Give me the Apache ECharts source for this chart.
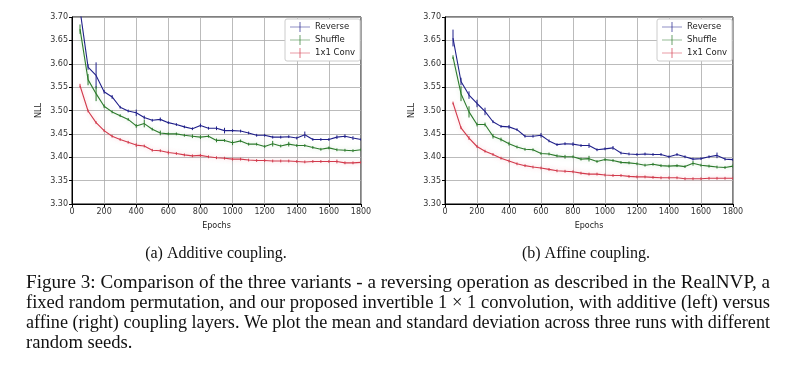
<!DOCTYPE html>
<html>
<head>
<meta charset="utf-8">
<script src="https://cdn.jsdelivr.net/npm/echarts@6/dist/echarts.min.js"></script>
<style>
  html, body { margin: 0; padding: 0; background: #fff; }
  #main { width: 796px; height: 373px; }
</style>
</head>
<body>
<div id="main"></div>
<script>
// epochs at which the curves were logged
const epochs = [50, 100, 150, 200, 250, 300, 350, 400, 450, 500, 550, 600, 650, 700, 750, 800, 850, 900,
  950, 1000, 1050, 1100, 1150, 1200, 1250, 1300, 1350, 1400, 1450, 1500, 1550, 1600, 1650, 1700, 1750, 1800];

// (a) additive coupling
const addRev = [3.715, 3.593, 3.575, 3.540, 3.529, 3.507, 3.499, 3.495, 3.485, 3.479, 3.481, 3.474, 3.470, 3.465, 3.461,
  3.468, 3.462, 3.462, 3.457, 3.457, 3.456, 3.452, 3.447, 3.447, 3.443, 3.443, 3.444, 3.441, 3.448, 3.438, 3.438, 3.438, 3.443, 3.445, 3.441, 3.438];
const addShuf = [3.674, 3.566, 3.536, 3.509, 3.497, 3.489, 3.481, 3.467, 3.472, 3.460, 3.452, 3.450, 3.450, 3.447, 3.445,
  3.443, 3.445, 3.436, 3.436, 3.431, 3.435, 3.428, 3.428, 3.423, 3.429, 3.424, 3.428, 3.425, 3.425, 3.421, 3.417, 3.420, 3.416, 3.415, 3.414, 3.416];
const addConv = [3.553, 3.499, 3.474, 3.457, 3.445, 3.438, 3.432, 3.426, 3.424, 3.415, 3.414, 3.410, 3.408, 3.405, 3.403,
  3.404, 3.401, 3.399, 3.398, 3.396, 3.396, 3.394, 3.393, 3.393, 3.392, 3.392, 3.392, 3.391, 3.390, 3.391, 3.391, 3.391, 3.391, 3.388, 3.388, 3.389];
const addRevStd = [0.010, 0.006, 0.028, 0.004, 0.004, 0.003, 0.003, 0.007, 0.004, 0.003, 0.004, 0.003, 0.003, 0.003, 0.003,
  0.004, 0.003, 0.004, 0.006, 0.003, 0.003, 0.003, 0.003, 0.003, 0.003, 0.003, 0.003, 0.003, 0.007, 0.003, 0.003, 0.003, 0.004, 0.004, 0.004, 0.003];
const addShufStd = [0.010, 0.012, 0.016, 0.004, 0.003, 0.003, 0.003, 0.004, 0.008, 0.003, 0.005, 0.003, 0.003, 0.003, 0.004,
  0.004, 0.003, 0.004, 0.003, 0.005, 0.003, 0.003, 0.003, 0.003, 0.006, 0.003, 0.005, 0.003, 0.003, 0.003, 0.003, 0.003, 0.003, 0.003, 0.003, 0.003];
const addConvStd = [0.004, 0.003, 0.003, 0.003, 0.003, 0.003, 0.003, 0.004, 0.003, 0.003, 0.003, 0.004, 0.003, 0.003, 0.003,
  0.003, 0.003, 0.003, 0.003, 0.003, 0.003, 0.003, 0.003, 0.003, 0.003, 0.003, 0.003, 0.003, 0.003, 0.003, 0.003, 0.003, 0.004, 0.003, 0.003, 0.003];

// (b) affine coupling
const affRev = [3.655, 3.562, 3.533, 3.515, 3.498, 3.476, 3.466, 3.465, 3.459, 3.445, 3.445, 3.447, 3.435, 3.427, 3.429,
  3.428, 3.425, 3.425, 3.416, 3.418, 3.420, 3.409, 3.407, 3.406, 3.407, 3.406, 3.406, 3.401, 3.406, 3.401, 3.396, 3.397, 3.401, 3.404, 3.396, 3.395];
const affShuf = [3.614, 3.536, 3.497, 3.470, 3.470, 3.445, 3.438, 3.429, 3.422, 3.417, 3.416, 3.408, 3.407, 3.403, 3.401,
  3.401, 3.396, 3.397, 3.391, 3.395, 3.393, 3.389, 3.388, 3.386, 3.383, 3.385, 3.382, 3.381, 3.382, 3.380, 3.387, 3.383, 3.381, 3.379, 3.378, 3.381];
const affConv = [3.516, 3.463, 3.441, 3.423, 3.413, 3.406, 3.398, 3.392, 3.386, 3.382, 3.379, 3.377, 3.374, 3.371, 3.370,
  3.369, 3.366, 3.364, 3.364, 3.362, 3.361, 3.361, 3.359, 3.358, 3.358, 3.357, 3.356, 3.356, 3.356, 3.354, 3.354, 3.354, 3.355, 3.355, 3.355, 3.355];
const affRevStd = [0.018, 0.008, 0.008, 0.008, 0.008, 0.003, 0.003, 0.004, 0.003, 0.003, 0.003, 0.005, 0.003, 0.003, 0.003,
  0.004, 0.003, 0.005, 0.003, 0.003, 0.004, 0.003, 0.003, 0.003, 0.003, 0.003, 0.003, 0.003, 0.003, 0.003, 0.003, 0.003, 0.003, 0.006, 0.003, 0.003];
const affShufStd = [0.004, 0.016, 0.012, 0.004, 0.004, 0.005, 0.004, 0.004, 0.003, 0.003, 0.003, 0.003, 0.003, 0.003, 0.004,
  0.003, 0.003, 0.006, 0.003, 0.003, 0.003, 0.003, 0.003, 0.003, 0.003, 0.003, 0.003, 0.003, 0.003, 0.003, 0.005, 0.003, 0.003, 0.003, 0.003, 0.004];
const affConvStd = [0.003, 0.003, 0.004, 0.003, 0.003, 0.003, 0.003, 0.003, 0.003, 0.003, 0.003, 0.003, 0.003, 0.003, 0.003,
  0.003, 0.003, 0.003, 0.003, 0.003, 0.003, 0.003, 0.003, 0.003, 0.003, 0.003, 0.003, 0.003, 0.003, 0.003, 0.003, 0.003, 0.003, 0.003, 0.003, 0.003];

const names = ['Reverse', 'Shuffle', '1x1 Conv'];
const colors = ['#20208a', '#2c7a2c', '#d23a4c'];
const glow = ['rgba(0,0,0,0)', 'rgba(60,160,60,0.25)', 'rgba(230,80,100,0.35)'];

const captionA = '(a) Additive coupling.';
const captionB = '(b) Affine coupling.';
const paragraph = [
  'Figure 3: Comparison of the three variants - a reversing operation as described in the RealNVP, a',
  'fixed random permutation, and our proposed invertible 1 \u00d7 1 convolution, with additive (left) versus',
  'affine (right) coupling layers. We plot the mean and standard deviation across three runs with different',
  'random seeds.'
];

const tickFont = 'DejaVu Sans';

function makeAxes(idx) {
  const x = {
    type: 'value', gridIndex: idx, min: 0, max: 1800, interval: 200,
    name: 'Epochs', nameLocation: 'middle', nameGap: 18,
    nameTextStyle: { fontFamily: tickFont, fontSize: 8, color: '#222' },
    axisLine: { show: true, onZero: false, lineStyle: { color: '#000', width: 1 } },
    axisTick: { show: true, length: 3, lineStyle: { color: '#000' } },
    axisLabel: { fontFamily: tickFont, fontSize: 8, color: '#333', margin: 4, formatter: v => String(v) },
    splitLine: { show: true, lineStyle: { color: '#aaaaaa', width: 0.8 } }
  };
  const y = {
    type: 'value', gridIndex: idx, min: 3.30, max: 3.70, interval: 0.05,
    name: 'NLL', nameLocation: 'middle', nameGap: 29,
    nameTextStyle: { fontFamily: tickFont, fontSize: 8, color: '#222' },
    axisLine: { show: true, lineStyle: { color: '#000', width: 1 } },
    axisTick: { show: true, length: 3, lineStyle: { color: '#000' } },
    axisLabel: { fontFamily: tickFont, fontSize: 8, color: '#333', margin: 4, formatter: v => v.toFixed(2) },
    splitLine: { show: true, lineStyle: { color: '#aaaaaa', width: 0.8 } }
  };
  return [x, y];
}

function lineSeries(idx, k, vals) {
  return {
    name: names[k], type: 'line', xAxisIndex: idx, yAxisIndex: idx,
    data: epochs.map((e, i) => [e, vals[i]]),
    symbol: 'none', clip: true,
    lineStyle: { color: colors[k], width: 1.1, shadowBlur: 4, shadowColor: glow[k] },
    itemStyle: { color: colors[k] },
    z: 3 + k
  };
}

function errSeries(idx, k, vals, std) {
  return {
    name: names[k], type: 'custom', xAxisIndex: idx, yAxisIndex: idx, clip: true,
    data: epochs.map((e, i) => [e, vals[i], std[i]]),
    renderItem: (params, api) => {
      const e = api.value(0), v = api.value(1), s = api.value(2);
      const p1 = api.coord([e, v - s]);
      const p2 = api.coord([e, v + s]);
      return {
        type: 'line',
        shape: { x1: p1[0], y1: p1[1], x2: p2[0], y2: p2[1] },
        style: { stroke: colors[k], lineWidth: 1 }
      };
    },
    z: 3 + k
  };
}

const legendIcon = 'path://M0,9.3H40V10.7H0Z M19.3,0H20.7V20H19.3Z';
function makeLegend(left) {
  return {
    orient: 'vertical', left: left, top: 19, itemGap: 3,
    itemWidth: 20, itemHeight: 10, padding: [3, 5, 3, 5],
    backgroundColor: '#fff', borderColor: '#ccc', borderWidth: 1, borderRadius: 2,
    textStyle: { fontFamily: tickFont, fontSize: 8.5, color: '#222' },
    data: names.map(n => ({ name: n, icon: legendIcon }))
  };
}

// paragraph: justify each full line by a horizontal scale measured on a canvas
const meas = document.createElement('canvas').getContext('2d');
const paraFont = '18px "Liberation Serif"';
meas.font = paraFont;
const paraWidth = 744;
const scales = paragraph.map(t => paraWidth / meas.measureText(t).width);
const lastScale = (scales[0] + scales[1] + scales[2]) / 3;

const graphics = [
  { type: 'text', x: 216, y: 254, style: { text: captionA, font: '16px "Liberation Serif"', fill: '#111', align: 'center', verticalAlign: 'middle' } },
  { type: 'text', x: 586, y: 254, style: { text: captionB, font: '16px "Liberation Serif"', fill: '#111', align: 'center', verticalAlign: 'middle' } }
];
paragraph.forEach((t, i) => {
  graphics.push({
    type: 'text', x: 26, y: 283 + i * 20,
    scaleX: i < paragraph.length - 1 ? scales[i] : lastScale,
    style: { text: t, font: paraFont, fill: '#111', verticalAlign: 'middle' }
  });
});

const [xa, ya] = makeAxes(0);
const [xb, yb] = makeAxes(1);

const chart = echarts.init(document.getElementById('main'));
chart.setOption({
  animation: false,
  backgroundColor: '#fff',
  grid: [
    { left: 72, right: 435, top: 17, bottom: 169, show: true, borderColor: '#000', borderWidth: 1, backgroundColor: 'transparent' },
    { left: 445, right: 63, top: 17, bottom: 169, show: true, borderColor: '#000', borderWidth: 1, backgroundColor: 'transparent' }
  ],
  xAxis: [xa, xb],
  yAxis: [ya, yb],
  legend: [makeLegend(285), makeLegend(657)],
  series: [
    lineSeries(0, 0, addRev), lineSeries(0, 1, addShuf), lineSeries(0, 2, addConv),
    lineSeries(1, 0, affRev), lineSeries(1, 1, affShuf), lineSeries(1, 2, affConv),
    errSeries(0, 0, addRev, addRevStd), errSeries(0, 1, addShuf, addShufStd), errSeries(0, 2, addConv, addConvStd),
    errSeries(1, 0, affRev, affRevStd), errSeries(1, 1, affShuf, affShufStd), errSeries(1, 2, affConv, affConvStd)
  ],
  graphic: graphics
});
</script>
</body>
</html>
